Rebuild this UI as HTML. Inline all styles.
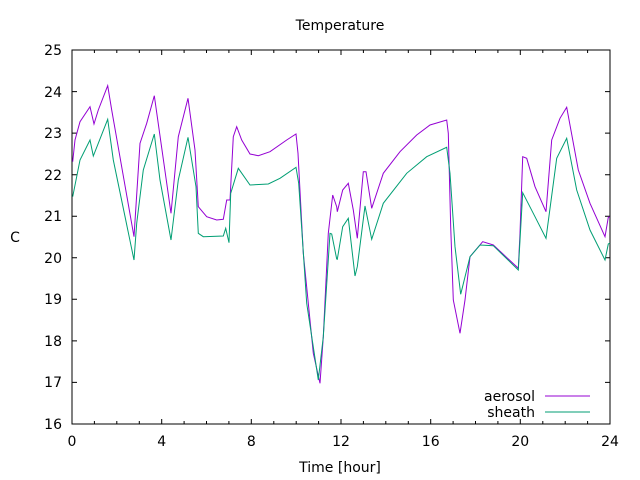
<!DOCTYPE html>
<html><head><meta charset="utf-8"><style>body{margin:0;background:#fff}svg{display:block}text{font-family:"DejaVu Sans","Liberation Sans",sans-serif;font-size:14px;fill:#000}</style></head><body>
<svg width="640" height="480" viewBox="0 0 640 480" xmlns="http://www.w3.org/2000/svg">
<text x="340" y="30" text-anchor="middle">Temperature</text>
<text x="15" y="242" text-anchor="middle">C</text>
<text x="340" y="472" text-anchor="middle">Time [hour]</text>
<g stroke="#000" stroke-width="1">
<path d="M72,424h5M610,424h-5M72,382.4h5M610,382.4h-5M72,340.9h5M610,340.9h-5M72,299.3h5M610,299.3h-5M72,257.8h5M610,257.8h-5M72,216.2h5M610,216.2h-5M72,174.7h5M610,174.7h-5M72,133.1h5M610,133.1h-5M72,91.6h5M610,91.6h-5M72,50h5M610,50h-5"/>
<path d="M72,424v-5M72,50v5M161.7,424v-5M161.7,50v5M251.3,424v-5M251.3,50v5M341,424v-5M341,50v5M430.7,424v-5M430.7,50v5M520.3,424v-5M520.3,50v5M610,424v-5M610,50v5"/>
<path d="M94.4,424v-3M116.8,424v-3M139.3,424v-3M184.1,424v-3M206.5,424v-3M228.9,424v-3M273.8,424v-3M296.2,424v-3M318.6,424v-3M363.4,424v-3M385.8,424v-3M408.3,424v-3M453.1,424v-3M475.5,424v-3M497.9,424v-3M542.8,424v-3M565.2,424v-3M587.6,424v-3M94.4,50v3M116.8,50v3M139.3,50v3M184.1,50v3M206.5,50v3M228.9,50v3M273.8,50v3M296.2,50v3M318.6,50v3M363.4,50v3M385.8,50v3M408.3,50v3M453.1,50v3M475.5,50v3M497.9,50v3M542.8,50v3M565.2,50v3M587.6,50v3"/>
<rect x="72" y="50" width="538" height="374" fill="none"/>
</g>
<g text-anchor="end">
<text x="62" y="429">16</text><text x="62" y="387">17</text><text x="62" y="346">18</text><text x="62" y="304">19</text><text x="62" y="263">20</text><text x="62" y="221">21</text><text x="62" y="180">22</text><text x="62" y="138">23</text><text x="62" y="97">24</text><text x="62" y="55">25</text>
</g>
<g text-anchor="middle">
<text x="72" y="446">0</text><text x="161.7" y="446">4</text><text x="251.3" y="446">8</text><text x="341" y="446">12</text><text x="430.7" y="446">16</text><text x="520.3" y="446">20</text><text x="610" y="446">24</text>
</g>
<polyline fill="none" stroke="#9400d3" stroke-width="1" points="72.7,161.7 75,140 80,121.7 90,106.7 94,124 98.3,110 107.7,85.7 111.7,110 134,236.7 140,143.3 146.7,123.3 154.3,95.7 171,213.3 178.3,136.7 188,98.3 195,150 198.3,206.7 206.7,216.7 216.7,220 223.3,219.3 226.7,200 230,200 233.3,136.7 236.7,126.7 241.7,140 250,154 258.3,155.7 270,151.7 286.7,140 296,134 298,153.3 303.3,253.3 313.3,353.3 320,383.3 323.3,336.7 328.3,233.3 332.7,195 336.7,206.7 337.3,211.7 342.7,190 348.3,183.3 353.3,210 357.3,238.3 363.3,171.7 366,171.7 371.7,208.3 383.3,173.3 400,151.7 416.7,135 430,125 446.7,120 448.3,133.3 450.7,226.7 453.3,300 460,333.3 465,300 470,256.7 482.7,241.7 493.3,245 518.3,268.3 520,233.3 522.7,156.7 526.7,158.3 535,186.7 546,211.7 551.7,140 560,118.3 566.7,107.3 578.3,170 590,203.3 605,236.7 608.3,217.3 610,217"/>
<polyline fill="none" stroke="#009e73" stroke-width="1" points="72.7,196.7 80,160 90,140 93.3,156 107.7,119.3 113.3,160 134,260 136.7,223.3 143.3,170 154.3,134 160,180 171,240 178.3,180 188,137.3 196,186.7 198.3,233.3 203.3,236.7 223.3,236 225.7,228.3 229,242.7 230.7,193.3 238.3,168.3 250,185 268.3,184 280,178.3 296,167.3 298.7,183.3 306.7,303.3 318.3,380 323.3,336.7 330,233.3 331.7,234 336.7,259 337.3,259.3 342.7,226.7 348.3,218.3 355,276 357.3,266.7 365,206 371.7,239.3 383.3,203.3 406.7,173.3 426.7,156.7 446.7,147.3 450,173.3 455,246.7 460.7,294.3 470,256.7 480,245 493.3,245.7 518.3,270 522.7,192.7 535,216.7 546,238.3 556.7,158.3 566.7,138.3 576.7,190 590,230 605,260 608.3,244 610,243"/>
<text x="535" y="401" text-anchor="end">aerosol</text>
<text x="535" y="417" text-anchor="end">sheath</text>
<path d="M545,396h45" stroke="#9400d3"/>
<path d="M545,412h45" stroke="#009e73"/>
</svg>
</body></html>
